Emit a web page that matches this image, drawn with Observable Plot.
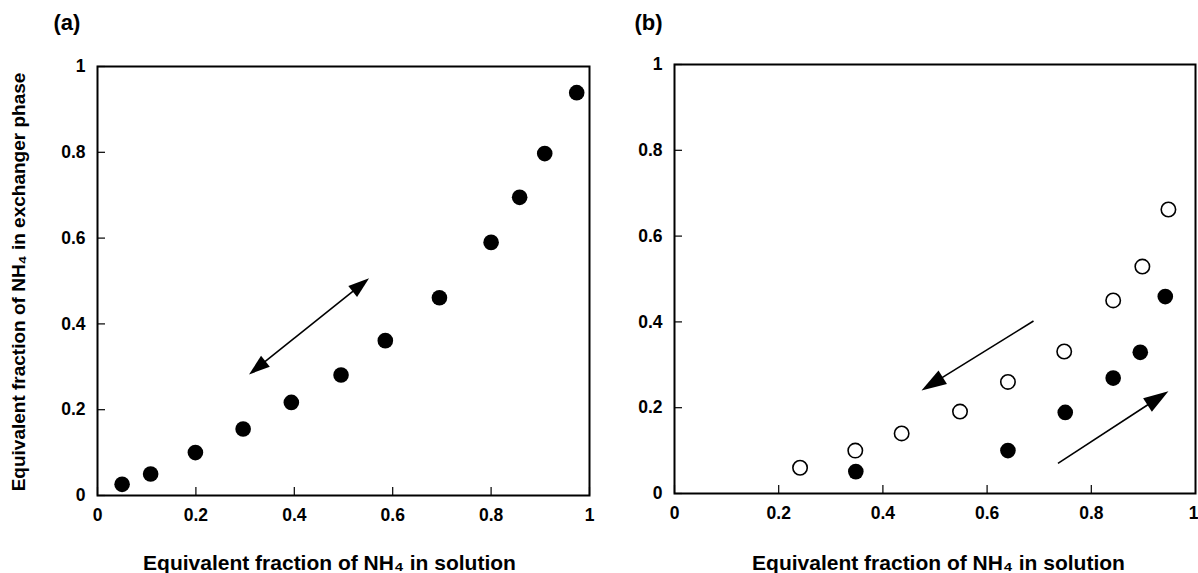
<!DOCTYPE html>
<html><head><meta charset="utf-8">
<script src="https://cdn.jsdelivr.net/npm/d3@7"></script>
<script src="https://cdn.jsdelivr.net/npm/@observablehq/plot@0.6"></script>
<style>
html,body{margin:0;padding:0;background:#fff;}
#wrap{position:relative;width:1198px;height:573px;overflow:hidden;background:#fff;}
#a,#b{position:absolute;top:0;}
#a{left:0;} #b{left:600px;}
svg{overflow:visible}
</style></head><body><div id="wrap"><div id="a"></div><div id="b"></div></div>
<script>
// ---- data ----
const tickValues = [0, 0.2, 0.4, 0.6, 0.8, 1];
const tickLabels = ["0", "0.2", "0.4", "0.6", "0.8", "1"];
const panelLabels = ["(a)", "(b)"];
const xTitle = "Equivalent fraction of NH\u2084 in solution";
const yTitle = "Equivalent fraction of NH\u2084 in exchanger phase";

// panel (a): filled circles
const aX = [0.05, 0.108, 0.199, 0.296, 0.394, 0.495, 0.585, 0.695, 0.80, 0.858, 0.909, 0.974];
const aY = [0.026, 0.05, 0.10, 0.155, 0.217, 0.281, 0.361, 0.461, 0.59, 0.695, 0.797, 0.939];

// panel (b): open circles and filled circles
const bOpenX = [0.241, 0.347, 0.436, 0.548, 0.640, 0.748, 0.842, 0.898, 0.948];
const bOpenY = [0.06, 0.10, 0.14, 0.191, 0.26, 0.331, 0.45, 0.529, 0.662];
const bFillX = [0.348, 0.640, 0.750, 0.842, 0.894, 0.942];
const bFillY = [0.051, 0.10, 0.189, 0.269, 0.329, 0.459];

// arrows (from x1,y1 to x2,y2; "both" = double headed)
const arrowX1A = [0.309], arrowY1A = [0.281], arrowX2A = [0.553], arrowY2A = [0.505], arrowBothA = [true];
const arrowX1B = [0.69, 0.737], arrowY1B = [0.401, 0.069], arrowX2B = [0.475, 0.949], arrowY2B = [0.239, 0.237], arrowBothB = [false, false];

const font = "'Liberation Sans', Arial, Helvetica, sans-serif";

function arrowMark(x1s, y1s, x2s, y2s, boths, headLen, headW) {
  return (index, scales) => {
    const g = d3.create("svg:g");
    x1s.forEach((_, i) => {
      const ax = scales.x(x1s[i]), ay = scales.y(y1s[i]);
      const bx = scales.x(x2s[i]), by = scales.y(y2s[i]);
      const ang = Math.atan2(by - ay, bx - ax);
      const c = Math.cos(ang), s = Math.sin(ang);
      const lx1 = boths[i] ? ax + c * headLen * 0.8 : ax, ly1 = boths[i] ? ay + s * headLen * 0.8 : ay;
      const lx2 = bx - c * headLen * 0.8, ly2 = by - s * headLen * 0.8;
      g.append("line").attr("x1", lx1).attr("y1", ly1).attr("x2", lx2).attr("y2", ly2)
        .attr("stroke", "black").attr("stroke-width", 1.6);
      const heads = boths[i] ? [[bx, by, ang], [ax, ay, ang + Math.PI]] : [[bx, by, ang]];
      for (const [tx, ty, a] of heads) {
        const cc = Math.cos(a), ss = Math.sin(a);
        const mx = tx - headLen * cc, my = ty - headLen * ss;
        const px = -ss * headW / 2, py = cc * headW / 2;
        g.append("path").attr("d", `M${tx},${ty}L${mx + px},${my + py}L${mx - px},${my - py}Z`).attr("fill", "black");
      }
    });
    return g.node();
  };
}

const fmt = d => tickLabels[tickValues.indexOf(d)];
const tickFont = {fontSize: 17.5, fontWeight: "bold"};
function axes(lastEnd) {
  const marks = [
    Plot.axisY({ticks: tickValues, tickSize: -8, tickPadding: 20, tickFormat: fmt, ...tickFont, strokeWidth: 1.2, label: null})
  ];
  if (lastEnd) {
    marks.push(Plot.axisX({ticks: tickValues.slice(0, -1), tickSize: -8, tickPadding: 21, tickFormat: fmt, ...tickFont, strokeWidth: 1.2, label: null}));
    marks.push(Plot.axisX({ticks: tickValues.slice(-1), tickSize: 0, tickPadding: 13, tickFormat: fmt, ...tickFont, textAnchor: "end", dx: 3, label: null}));
  } else {
    marks.push(Plot.axisX({ticks: tickValues, tickSize: -8, tickPadding: 21, tickFormat: fmt, ...tickFont, strokeWidth: 1.2, label: null}));
  }
  return marks;
}

const titleFont = {fontSize: 21, fontWeight: "bold"};

// Panel (a)
const plotA = Plot.plot({
  width: 600, height: 573,
  marginLeft: 97, marginRight: 11, marginTop: 66, marginBottom: 78,
  x: {domain: [0, 1], label: null},
  y: {domain: [0, 1], label: null},
  style: {fontFamily: font, color: "black", background: "white"},
  marks: [
    Plot.frame({strokeWidth: 2}),
    ...axes(false),
    Plot.dot(aX.map((x, i) => ({x, y: aY[i]})), {x: "x", y: "y", r: 7.8, fill: "black", stroke: "none"}),
    arrowMark(arrowX1A, arrowY1A, arrowX2A, arrowY2A, arrowBothA, 21, 14),
    Plot.text([panelLabels[0]], {frameAnchor: "top-left", dx: -44, dy: -44, text: d => d, textAnchor: "start", lineAnchor: "middle", fontSize: 22, fontWeight: "bold"}),
    Plot.text([yTitle], {frameAnchor: "left", dx: -79, dy: 1, rotate: -90, text: d => d, fontSize: 19, fontWeight: "bold", textAnchor: "middle", lineAnchor: "middle"}),
    Plot.text([xTitle], {frameAnchor: "bottom", dx: -14, dy: 68, text: d => d, ...titleFont, textAnchor: "middle", lineAnchor: "middle"})
  ]
});
document.getElementById("a").appendChild(plotA);

// Panel (b)
const plotB = Plot.plot({
  width: 598, height: 573,
  marginLeft: 74, marginRight: 3, marginTop: 64, marginBottom: 80,
  x: {domain: [0, 1], label: null},
  y: {domain: [0, 1], label: null},
  style: {fontFamily: font, color: "black", background: "white"},
  marks: [
    Plot.frame({strokeWidth: 2}),
    ...axes(true),
    Plot.dot(bOpenX.map((x, i) => ({x, y: bOpenY[i]})), {x: "x", y: "y", r: 7.2, fill: "white", stroke: "black", strokeWidth: 1.6}),
    Plot.dot(bFillX.map((x, i) => ({x, y: bFillY[i]})), {x: "x", y: "y", r: 7.8, fill: "black", stroke: "none"}),
    arrowMark(arrowX1B, arrowY1B, arrowX2B, arrowY2B, arrowBothB, 25, 16),
    Plot.text([panelLabels[1]], {frameAnchor: "top-left", dx: -40, dy: -42, text: d => d, textAnchor: "start", lineAnchor: "middle", fontSize: 22, fontWeight: "bold"}),
    Plot.text([xTitle], {frameAnchor: "bottom", dx: 3.5, dy: 70, text: d => d, ...titleFont, textAnchor: "middle", lineAnchor: "middle"})
  ]
});
document.getElementById("b").appendChild(plotB);
</script>
</body></html>
